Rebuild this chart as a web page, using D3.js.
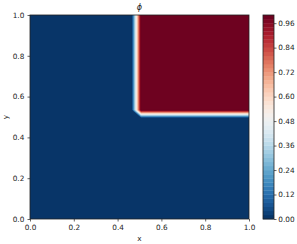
<!DOCTYPE html>
<html>
<head>
<meta charset="utf-8">
<script src="https://cdn.jsdelivr.net/npm/d3@7"></script>
<style>
  body { margin: 0; background: #fff; }
  text { font-family: "DejaVu Sans", sans-serif; }
</style>
</head>
<body>
<div id="chart"></div>
<script>
// phi field: grid nodes (x, y) and node values (rows = y, bottom to top)
var xNodes = [0, 0.466, 0.507, 1];
var yNodes = [0, 0.497, 0.534, 1];
var phiValues = [
    [0, 0, 0, 0],
    [0, 0, 0, 0],
    [0, 0, 1, 1],
    [0, 0, 1, 1]
];

// contour levels 0, 0.02, ... 1.0
var levels = d3.range(0, 51).map(function(i) { return +(i * 0.02).toFixed(2); });
var xTicks = [0, 0.2, 0.4, 0.6, 0.8, 1.0];
var yTicks = [0, 0.2, 0.4, 0.6, 0.8, 1.0];
var cbarTicks = [0, 0.12, 0.24, 0.36, 0.48, 0.60, 0.72, 0.84, 0.96];

var svgWidth = 297, svgHeight = 244;
var plot = { left: 30, top: 15, right: 249, bottom: 219 };
var cbar = { left: 263, right: 274 };
var fontSize = 7.3;

var svg = d3.select("#chart")
    .append("svg")
    .attr("width", svgWidth)
    .attr("height", svgHeight);

var xScale = d3.scaleLinear().domain([0, 1]).range([plot.left, plot.right]);
var yScale = d3.scaleLinear().domain([0, 1]).range([plot.bottom, plot.top]);

// colormap RdBu_r, band colour at the band midpoint
function bandColor(k) {
    var mid = (levels[k] + levels[k + 1]) / 2;
    return d3.interpolateRdBu(1 - mid);
}

// grid index space -> data space (node i sits at i + 0.5)
var nx = xNodes.length, ny = yNodes.length;
var ixScale = d3.scaleLinear()
    .domain([0].concat(xNodes.map(function(d, i) { return i + 0.5; }), [nx]))
    .range([0].concat(xNodes, [1]));
var iyScale = d3.scaleLinear()
    .domain([0].concat(yNodes.map(function(d, i) { return i + 0.5; }), [ny]))
    .range([0].concat(yNodes, [1]));

var values = [];
phiValues.forEach(function(row) { row.forEach(function(v) { values.push(v); }); });

var contours = d3.contours()
    .size([nx, ny])
    .thresholds(levels.slice(1, levels.length - 1))(values);

var path = d3.geoPath(d3.geoTransform({
    point: function(x, y) {
        this.stream.point(xScale(ixScale(x)), yScale(iyScale(y)));
    }
}));

svg.append("clipPath").attr("id", "plotclip")
    .append("rect")
    .attr("x", plot.left).attr("y", plot.top)
    .attr("width", plot.right - plot.left).attr("height", plot.bottom - plot.top);

var chart = svg.append("g").attr("clip-path", "url(#plotclip)");

chart.append("rect")
    .attr("x", plot.left).attr("y", plot.top)
    .attr("width", plot.right - plot.left).attr("height", plot.bottom - plot.top)
    .attr("fill", bandColor(0));

chart.selectAll("path.band")
    .data(contours)
    .enter()
    .append("path")
    .attr("class", "band")
    .attr("d", path)
    .attr("fill", function(d) { return bandColor(levels.indexOf(+d.value.toFixed(2))); })
    .attr("stroke", function(d) { return bandColor(levels.indexOf(+d.value.toFixed(2))); })
    .attr("stroke-width", 0.3);

// axes
var bottomAxis = d3.axisBottom(xScale).tickValues(xTicks).tickSize(2.5).tickPadding(3.3).tickFormat(d3.format(".1f"));
var leftAxis = d3.axisLeft(yScale).tickValues(yTicks).tickSize(2.5).tickPadding(3.2).tickFormat(d3.format(".1f"));

var gx = svg.append("g")
    .attr("transform", "translate(0," + plot.bottom + ")")
    .call(bottomAxis);
var gy = svg.append("g")
    .attr("transform", "translate(" + plot.left + ",0)")
    .call(leftAxis);

[gx, gy].forEach(function(g) {
    g.select(".domain").remove();
    g.selectAll("text").attr("font-size", fontSize).attr("fill", "#222").attr("font-family", "DejaVu Sans");
    g.selectAll("line").attr("stroke", "#222").attr("stroke-width", 0.7);
});

svg.append("rect")
    .attr("x", plot.left).attr("y", plot.top)
    .attr("width", plot.right - plot.left).attr("height", plot.bottom - plot.top)
    .attr("fill", "none")
    .attr("stroke", "#222")
    .attr("stroke-width", 0.8);

// labels
svg.append("text")
    .attr("x", (plot.left + plot.right) / 2)
    .attr("y", 10)
    .attr("text-anchor", "middle")
    .attr("font-size", 8)
    .attr("font-style", "italic")
    .attr("fill", "#222")
    .text("ϕ");

svg.append("text")
    .attr("x", (plot.left + plot.right) / 2)
    .attr("y", 241)
    .attr("text-anchor", "middle")
    .attr("font-size", fontSize)
    .attr("fill", "#222")
    .text("x");

svg.append("text")
    .attr("transform", "translate(8," + ((plot.top + plot.bottom) / 2) + ") rotate(-90)")
    .attr("text-anchor", "middle")
    .attr("font-size", fontSize)
    .attr("fill", "#222")
    .text("y");

// colorbar
var cScale = d3.scaleLinear().domain([0, 1]).range([plot.bottom, plot.top]);

svg.selectAll("rect.cband")
    .data(levels.slice(0, levels.length - 1))
    .enter()
    .append("rect")
    .attr("class", "cband")
    .attr("x", cbar.left)
    .attr("width", cbar.right - cbar.left)
    .attr("y", function(d, i) { return cScale(levels[i + 1]); })
    .attr("height", function(d, i) { return cScale(levels[i]) - cScale(levels[i + 1]) + 0.3; })
    .attr("fill", function(d, i) { return bandColor(i); });

svg.append("rect")
    .attr("x", cbar.left).attr("y", plot.top)
    .attr("width", cbar.right - cbar.left).attr("height", plot.bottom - plot.top)
    .attr("fill", "none")
    .attr("stroke", "#222")
    .attr("stroke-width", 0.8);

var cAxis = d3.axisRight(cScale).tickValues(cbarTicks).tickSize(2.5).tickPadding(1.8).tickFormat(d3.format(".2f"));
var gc = svg.append("g")
    .attr("transform", "translate(" + cbar.right + ",0)")
    .call(cAxis);
gc.select(".domain").remove();
gc.selectAll("text").attr("font-size", fontSize).attr("fill", "#222").attr("font-family", "DejaVu Sans");
gc.selectAll("line").attr("stroke", "#222").attr("stroke-width", 0.7);
</script>
</body>
</html>
